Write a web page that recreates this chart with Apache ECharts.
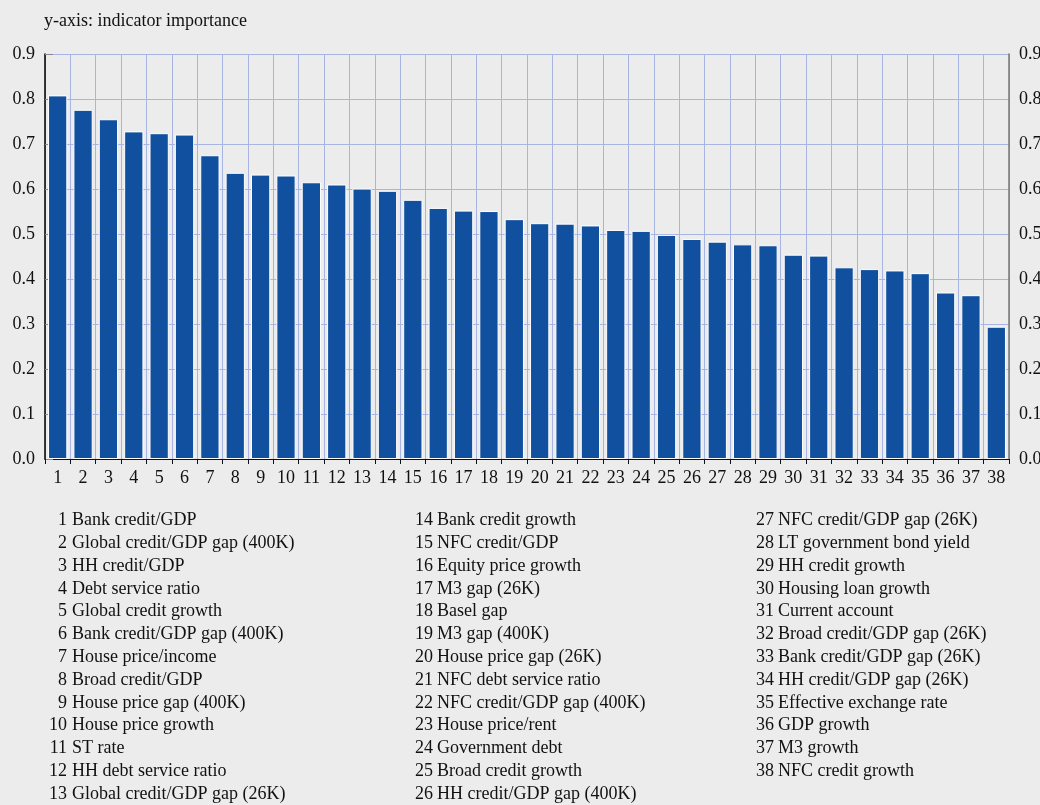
<!DOCTYPE html>
<html><head><meta charset="utf-8">
<script src="https://cdn.jsdelivr.net/npm/echarts@6/dist/echarts.min.js"></script>
<style>html,body{margin:0;padding:0;background:#ececec;overflow:hidden;}#c{width:1040px;height:805px;}</style>
</head><body><div id="c"></div>
<script>
const categories = ['1','2','3','4','5','6','7','8','9','10','11','12','13','14','15','16','17','18','19','20','21','22','23','24','25','26','27','28','29','30','31','32','33','34','35','36','37','38'];
const importance = [0.808,0.776,0.755,0.728,0.724,0.721,0.675,0.636,0.632,0.630,0.615,0.610,0.601,0.596,0.576,0.558,0.552,0.551,0.533,0.524,0.523,0.519,0.509,0.507,0.498,0.489,0.483,0.477,0.475,0.454,0.452,0.426,0.422,0.419,0.413,0.370,0.364,0.294];
const indicatorNames = ['Bank credit/GDP','Global credit/GDP gap (400K)','HH credit/GDP','Debt service ratio','Global credit growth','Bank credit/GDP gap (400K)','House price/income','Broad credit/GDP','House price gap (400K)','House price growth','ST rate','HH debt service ratio','Global credit/GDP gap (26K)','Bank credit growth','NFC credit/GDP','Equity price growth','M3 gap (26K)','Basel gap','M3 gap (400K)','House price gap (26K)','NFC debt service ratio','NFC credit/GDP gap (400K)','House price/rent','Government debt','Broad credit growth','HH credit/GDP gap (400K)','NFC credit/GDP gap (26K)','LT government bond yield','HH credit growth','Housing loan growth','Current account','Broad credit/GDP gap (26K)','Bank credit/GDP gap (26K)','HH credit/GDP gap (26K)','Effective exchange rate','GDP growth','M3 growth','NFC credit growth'];
const yTicks = {min:0, max:0.9, interval:0.1};
const titleText = 'y-axis: indicator importance';

const FONT = '"Liberation Serif","Times New Roman",serif';
const chart = echarts.init(document.getElementById('c'));

const colNumRight = [67, 433, 774];
const colNameLeft = [72, 437, 778];
const rowTop = 520.5, rowStep = 22.8, perCol = 13;
const legendEls = [];
indicatorNames.forEach((n, i) => {
  const col = Math.floor(i / perCol), row = i % perCol;
  const y = rowTop + row * rowStep;
  legendEls.push({type:'text', x:colNumRight[col], y:y, style:{text:String(i+1), font:'18px '+FONT, fill:'#111', align:'right', verticalAlign:'middle'}});
  legendEls.push({type:'text', x:colNameLeft[col], y:y, style:{text:n, font:'18px '+FONT, fill:'#111', align:'left', verticalAlign:'middle'}});
});
legendEls.push({type:'text', x:44, y:21, style:{text:titleText, font:'18px '+FONT, fill:'#111', align:'left', verticalAlign:'middle'}});

const yAxisCommon = {
  type:'value', min:yTicks.min, max:yTicks.max, interval:yTicks.interval,
  axisLabel:{formatter:v=>v.toFixed(1), fontFamily:FONT, fontSize:18, color:'#111', margin:10},
  axisTick:{show:true, inside:true, length:8, lineStyle:{color:'#888'}},
};
chart.setOption({
  backgroundColor:'#ececec',
  animation:false,
  grid:{left:45, right:31, top:54, bottom:346, containLabel:false, outerBoundsMode:'none'},
  xAxis:{type:'category', data:categories,
    axisLine:{show:true, lineStyle:{color:'#111', width:1}},
    axisTick:{show:true, length:5, lineStyle:{color:'#111'}},
    axisLabel:{fontFamily:FONT, fontSize:18, color:'#111', margin:10, interval:0},
    splitLine:{show:true, lineStyle:{color:'#a8b4e4', width:1}}},
  yAxis:[
    Object.assign({}, yAxisCommon, {position:'left',
      axisLine:{show:true, lineStyle:{color:'#000', width:1.5}},
      splitLine:{show:true, lineStyle:{color:'#a8b4e4', width:1}}}),
    Object.assign({}, yAxisCommon, {position:'right',
      axisLine:{show:true, lineStyle:{color:'#777', width:1.5}},
      axisTick:{show:false},
      splitLine:{show:false}})
  ],
  series:[{type:'bar', data:importance, yAxisIndex:0, barCategoryGap:'24%',
    itemStyle:{color:'#11509f', borderColor:'#ffffff', borderWidth:1}}],
  graphic:legendEls
});
</script></body></html>
